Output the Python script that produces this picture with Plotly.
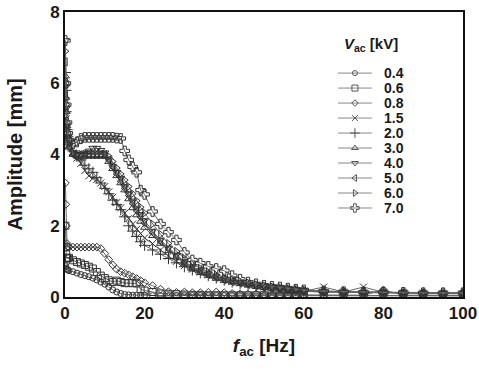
import plotly.graph_objects as go

# Frequencies [Hz]
freq = [0.1, 0.2, 0.3, 0.5, 0.7,
        1, 2, 3, 4, 5, 6, 7, 8, 9, 10,
        11, 12, 13, 14, 15, 16, 17, 18, 19, 20,
        22, 24, 26, 28, 30, 32, 34, 36, 38, 40,
        42, 44, 46, 48, 50, 52, 54, 56, 58, 60,
        65, 70, 75, 80, 85, 90, 95, 100]

labels = ["0.4", "0.6", "0.8", "1.5", "2.0", "3.0", "4.0", "5.0", "6.0", "7.0"]

amp_04 = [0.90, 0.85, 0.80, 0.78, 0.76,
          0.74, 0.71, 0.67, 0.63, 0.60, 0.57, 0.53, 0.48, 0.42, 0.36,
          0.28, 0.20, 0.14, 0.10, 0.07, 0.06, 0.05, 0.05, 0.05, 0.05,
          0.04, 0.04, 0.04, 0.04, 0.04, 0.04, 0.04, 0.04, 0.04, 0.04,
          0.04, 0.04, 0.03, 0.03, 0.03, 0.03, 0.03, 0.03, 0.03, 0.03,
          0.03, 0.03, 0.03, 0.03, 0.03, 0.03, 0.03, 0.03]
amp_06 = [2.00, 1.40, 1.20, 1.10, 1.08,
          1.10, 1.03, 0.98, 0.94, 0.90, 0.85, 0.80, 0.70, 0.60, 0.53,
          0.47, 0.42, 0.46, 0.42, 0.39, 0.39, 0.39, 0.38, 0.22, 0.18,
          0.14, 0.10, 0.09, 0.08, 0.07, 0.06, 0.06, 0.05, 0.05, 0.05,
          0.05, 0.05, 0.05, 0.05, 0.05, 0.04, 0.04, 0.04, 0.04, 0.04,
          0.04, 0.04, 0.04, 0.04, 0.04, 0.04, 0.04, 0.04]
amp_08 = [3.20, 2.60, 2.00, 1.50, 1.42,
          1.40, 1.40, 1.40, 1.40, 1.40, 1.40, 1.40, 1.40, 1.36, 1.22,
          1.05, 0.90, 0.78, 0.71, 0.67, 0.62, 0.57, 0.52, 0.46, 0.40,
          0.32, 0.22, 0.15, 0.13, 0.14, 0.12, 0.12, 0.13, 0.14, 0.12,
          0.10, 0.09, 0.08, 0.08, 0.07, 0.06, 0.06, 0.06, 0.06, 0.06,
          0.05, 0.05, 0.05, 0.20, 0.05, 0.05, 0.05, 0.05]
amp_15 = [6.00, 5.50, 5.00, 4.60, 4.40,
          4.30, 4.05, 3.90, 3.75, 3.55, 3.40, 3.33, 3.30, 3.20, 3.10,
          2.95, 2.80, 2.65, 2.50, 2.35, 2.20, 2.05, 1.90, 1.78, 1.66,
          1.50, 1.32, 1.15, 1.00, 0.88, 0.78, 0.70, 0.62, 0.55, 0.49,
          0.44, 0.40, 0.36, 0.32, 0.28, 0.25, 0.22, 0.20, 0.18, 0.16,
          0.28, 0.14, 0.28, 0.13, 0.12, 0.11, 0.10, 0.10]
amp_20 = [6.30, 5.80, 5.20, 4.70, 4.50,
          4.40, 4.10, 3.95, 3.85, 3.70, 3.60, 3.50, 3.35, 3.20, 3.05,
          2.90, 2.72, 2.60, 2.45, 2.25, 2.00, 1.85, 1.70, 1.55, 1.45,
          1.32, 1.20, 1.08, 0.96, 0.85, 0.76, 0.68, 0.60, 0.53, 0.47,
          0.42, 0.38, 0.34, 0.30, 0.27, 0.24, 0.22, 0.20, 0.18, 0.16,
          0.14, 0.13, 0.13, 0.12, 0.12, 0.11, 0.10, 0.10]
amp_30 = [6.20, 5.60, 5.20, 4.80, 4.50,
          4.20, 4.00, 3.95, 3.95, 3.95, 3.95, 3.95, 3.95, 3.95, 3.95,
          3.80, 3.60, 3.40, 3.20, 3.00, 2.75, 2.50, 2.30, 2.12, 1.95,
          1.72, 1.50, 1.30, 1.12, 0.92, 0.78, 0.68, 0.60, 0.52, 0.46,
          0.41, 0.37, 0.33, 0.29, 0.26, 0.24, 0.22, 0.20, 0.18, 0.16,
          0.14, 0.13, 0.12, 0.12, 0.11, 0.11, 0.10, 0.10]
amp_40 = [7.20, 5.90, 5.30, 4.80, 4.50,
          4.25, 4.05, 4.00, 4.00, 4.05, 4.10, 4.18, 4.18, 4.12, 4.05,
          3.85, 3.66, 3.50, 3.34, 3.10, 2.90, 2.70, 2.50, 2.32, 2.15,
          1.85, 1.60, 1.38, 1.18, 1.00, 0.85, 0.74, 0.65, 0.57, 0.50,
          0.45, 0.40, 0.36, 0.33, 0.30, 0.27, 0.25, 0.22, 0.20, 0.18,
          0.15, 0.14, 0.13, 0.12, 0.12, 0.11, 0.11, 0.10]
amp_50 = [6.60, 5.70, 5.20, 4.70, 4.45,
          4.20, 4.00, 3.95, 3.95, 4.00, 4.00, 4.00, 4.00, 4.00, 4.00,
          3.85, 3.65, 3.45, 3.25, 3.05, 2.85, 2.62, 2.42, 2.25, 2.08,
          1.80, 1.55, 1.34, 1.15, 0.96, 0.82, 0.72, 0.63, 0.55, 0.48,
          0.43, 0.39, 0.35, 0.31, 0.28, 0.26, 0.24, 0.21, 0.19, 0.17,
          0.15, 0.14, 0.13, 0.12, 0.12, 0.11, 0.10, 0.10]
amp_60 = [6.90, 6.00, 5.40, 4.90, 4.60,
          4.30, 4.05, 4.00, 4.00, 4.00, 4.00, 4.00, 4.00, 4.00, 4.00,
          3.95, 3.80, 3.62, 3.45, 3.28, 3.10, 2.90, 2.70, 2.52, 2.36,
          2.05, 1.76, 1.50, 1.28, 1.08, 0.92, 0.80, 0.70, 0.62, 0.55,
          0.49, 0.44, 0.40, 0.35, 0.32, 0.29, 0.26, 0.24, 0.21, 0.19,
          0.16, 0.15, 0.14, 0.13, 0.12, 0.12, 0.11, 0.12]
amp_70 = [7.20, 6.00, 5.40, 4.90, 4.60,
          4.40, 4.30, 4.35, 4.45, 4.48, 4.48, 4.48, 4.48, 4.48, 4.48,
          4.48, 4.48, 4.46, 4.45, 4.10, 3.85, 3.65, 3.50, 3.00, 2.88,
          2.40, 2.05, 1.82, 1.60, 1.25, 1.04, 0.95, 0.86, 0.80, 0.74,
          0.60, 0.50, 0.42, 0.37, 0.33, 0.30, 0.28, 0.25, 0.22, 0.20,
          0.17, 0.15, 0.14, 0.13, 0.13, 0.12, 0.12, 0.12]

series = [amp_04, amp_06, amp_08, amp_15, amp_20,
          amp_30, amp_40, amp_50, amp_60, amp_70]
symbols = ["circle-open", "square-open", "diamond-open", "x-thin-open",
           "cross-thin-open", "triangle-up-open", "triangle-down-open",
           "triangle-left-open", "triangle-right-open", "cross-open"]
sizes = [6, 7, 6, 7, 8, 7, 7, 7, 7, 8]

FONT = "Liberation Sans, Arial, sans-serif"
MARK = "#333333"
LINE = "#666666"
TXT = "#1a1a1a"

fig = go.Figure()
for lab, amp, sym, sz in zip(labels, series, symbols, sizes):
    fig.add_trace(go.Scatter(
        x=freq, y=amp, name=lab, mode="lines+markers", showlegend=False,
        line=dict(color=LINE, width=1),
        marker=dict(symbol=sym, size=sz, color=MARK,
                    line=dict(color=MARK, width=1)),
        xaxis="x", yaxis="y",
    ))

# Compact legend drawn in an inset axis (one row per series)
for i, (lab, sym, sz) in enumerate(zip(labels, symbols, sizes)):
    fig.add_trace(go.Scatter(
        x=[0, 1], y=[i, i], mode="lines", showlegend=False, hoverinfo="skip",
        line=dict(color="#888888", width=1), xaxis="x2", yaxis="y2",
    ))
    fig.add_trace(go.Scatter(
        x=[0.5], y=[i], mode="markers", showlegend=False, hoverinfo="skip",
        marker=dict(symbol=sym, size=sz - 1, color="#555555",
                    line=dict(color="#555555", width=1)),
        xaxis="x2", yaxis="y2", cliponaxis=False,
    ))
    fig.add_annotation(
        x=1.3, y=i, xref="x2", yref="y2", text=lab, showarrow=False,
        xanchor="left", yanchor="middle",
        font=dict(size=14, family=FONT, weight="bold", color=TXT),
    )

fig.add_annotation(
    x=0.769, y=0.885, xref="paper", yref="paper",
    text="<i>V</i><sub>ac</sub> [kV]", showarrow=False,
    xanchor="center", yanchor="middle",
    font=dict(size=15, family=FONT, weight="bold", color=TXT),
)

# y-axis title
fig.add_annotation(
    x=-0.128, y=0.5, xref="paper", yref="paper",
    text="Amplitude [mm]", showarrow=False, textangle=-90,
    xanchor="center", yanchor="middle",
    font=dict(size=20, family=FONT, weight="bold", color=TXT),
)

fig.update_layout(
    width=479, height=369,
    margin=dict(l=65, r=16, t=12, b=72),
    paper_bgcolor="white", plot_bgcolor="white",
    font=dict(family=FONT, color=TXT),
    showlegend=False,
    xaxis=dict(
        range=[0, 100], tickmode="array",
        tickvals=[0, 20, 40, 60, 80, 100],
        showgrid=False, zeroline=False, automargin=False,
        showline=True, linecolor="#111111", linewidth=2, mirror=True,
        ticks="", tickfont=dict(size=17, family=FONT, weight="bold"),
        title=dict(text="<i>f</i><sub>ac</sub> [Hz]",
                   font=dict(size=19, family=FONT, weight="bold"),
                   standoff=16),
    ),
    yaxis=dict(
        range=[0, 8], tickmode="array", tickvals=[0, 2, 4, 6, 8],
        showgrid=False, zeroline=False, automargin=False,
        showline=True, linecolor="#111111", linewidth=2, mirror=True,
        ticks="", tickfont=dict(size=17, family=FONT, weight="bold"),
    ),
    xaxis2=dict(domain=[0.686, 0.822], range=[0, 1.6], visible=False,
                anchor="y2", fixedrange=True),
    yaxis2=dict(domain=[0.286, 0.812], range=[9.5, -0.5], visible=False,
                anchor="x2", fixedrange=True),
)

fig.write_html("out.html")
